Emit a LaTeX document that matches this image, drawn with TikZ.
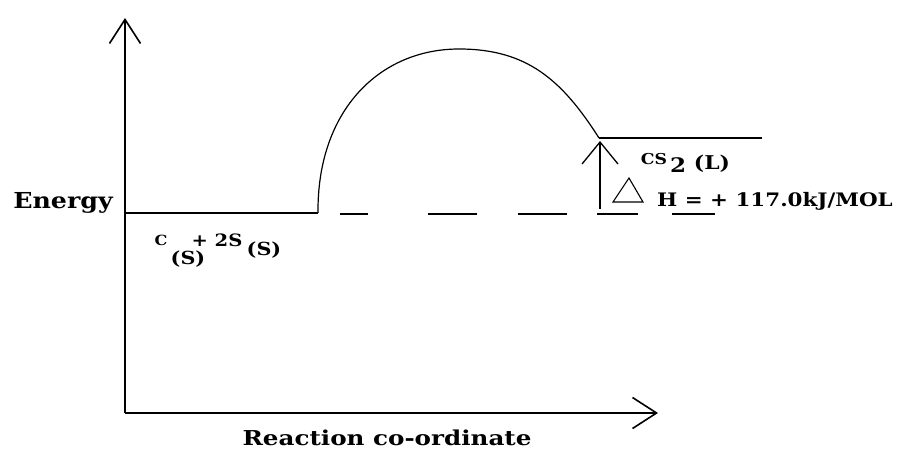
\documentclass[tikz,border=0pt]{standalone}
\usepackage{fontspec}
\setmainfont{DejaVu Serif}
\newfontfamily\ancha[FakeStretch=1.15]{DejaVu Serif}
\newfontfamily\muyancha[FakeStretch=1.2]{DejaVu Serif}
\usetikzlibrary{arrows.meta, positioning}

\begin{document}
\begin{tikzpicture}[>={Straight Barb[length=24pt, width=31pt]}, x=1pt, y=-1pt,
		eje/.style={line width=1.6pt},
		nivel/.style={line width=1.4pt},
		etiq/.style={inner sep=0pt}]
		
		\useasboundingbox (0,0) rectangle (900,449);
		
		% Parámetros del dibujo (en px de la imagen, eje y hacia abajo)
		\def\Ox{125}    % origen x de los ejes
		\def\Oy{413}    % origen y de los ejes
		\def\Er{213}    % nivel de los reactivos
		\def\Ep{138}    % nivel de los productos
		\def\Xp{599}    % comienzo del nivel de productos
		
		% --- 1. EJES ---
		\coordinate (Origen) at (\Ox, \Oy);
		\coordinate (TopeY) at (\Ox, 18);
		\coordinate (FinX) at (658, \Oy);
		\draw[->, eje] (Origen) -- (TopeY);
		\draw[->, eje] (Origen) -- (FinX);
		
		\node[etiq, anchor=east, font=\ancha\bfseries\fontsize{22}{24}\selectfont] (Energia) at (113, 203) {Energy};
		\node[etiq, font=\muyancha\bfseries\fontsize{20.5}{22}\selectfont] (EjeX) at (387, 438) {Reaction co-ordinate};
		
		% --- 2. NIVELES DE ENERGÍA ---
		\coordinate (ReacIzq) at (\Ox, \Er);
		\coordinate (ReacDer) at (318, \Er);
		\coordinate (Cima) at (459, 49);
		\coordinate (ProdIzq) at (\Xp, \Ep);
		\coordinate (ProdDer) at (762, \Ep);
		\coordinate (GuionIni) at (340, \Er+1);
		\coordinate (GuionFin) at (715, \Er+1);
		
		\draw[nivel] (ReacIzq) -- (ReacDer);
		\draw[nivel] (ProdIzq) -- (ProdDer);
		\draw[nivel, dash pattern=on 28pt off 60pt on 49pt off 41pt on 49pt off 30pt on 41pt off 34pt on 43pt off 20pt] (GuionIni) -- (GuionFin);
		
		% Barrera (curva del complejo activado)
		\draw[line width=1.2pt] (ReacDer) .. controls (317, 110) and (380, 49) .. (Cima)
		.. controls (527, 49) and (562, 80) .. (ProdIzq);
		
		% Flecha de la entalpía
		\coordinate (FlechaBase) at (\Xp+1, 209);
		\coordinate (FlechaTope) at (\Xp+1, \Ep+3);
		\draw[-{Straight Barb[length=22pt, width=36pt]}, line width=1.3pt] (FlechaBase) -- (FlechaTope);
		
		% Triángulo (delta)
		\coordinate (TriA) at (613, 202);
		\coordinate (TriB) at (629, 178);
		\coordinate (TriC) at (643, 202);
		\draw[line width=1.1pt] (TriA) -- (TriB) -- (TriC) -- cycle;
		
		% --- 3. ETIQUETAS DE ESPECIES ---
		\node[etiq, font=\ancha\bfseries\fontsize{14}{16}\selectfont] (Carbono) at (161, 240) {C};
		\node[etiq, font=\ancha\bfseries\fontsize{18}{20}\selectfont] (SubC) at (188, 259) {(S)};
		\node[etiq, font=\ancha\bfseries\fontsize{17}{18}\selectfont] (DosS) at (217, 240) {+ 2S};
		\node[etiq, font=\ancha\bfseries\fontsize{18}{20}\selectfont] (SubS) at (264, 250) {(S)};
		
		\node[etiq, font=\ancha\bfseries\fontsize{15}{16}\selectfont] (CS) at (654, 159) {CS};
		\node[etiq, font=\ancha\bfseries\fontsize{20}{22}\selectfont] (Dos) at (678, 165) {2};
		\node[etiq, font=\ancha\bfseries\fontsize{19}{20}\selectfont] (Liq) at (712, 164) {(L)};
		\node[etiq, anchor=west, font=\ancha\bfseries\fontsize{18.6}{22}\selectfont] (Entalpia) at (657, 201) {H = + 117.0kJ/MOL};
		
	\end{tikzpicture}
\end{document}
